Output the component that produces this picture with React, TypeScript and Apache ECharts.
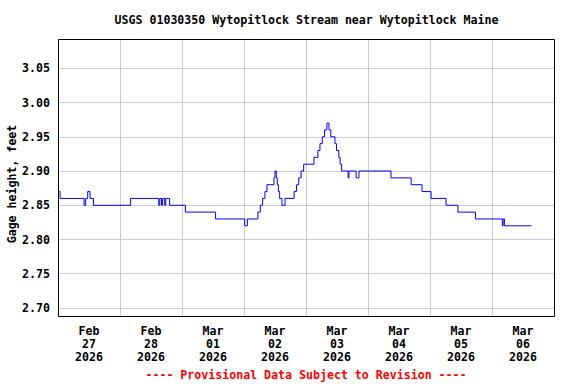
import React, { useEffect, useRef } from 'react';
import * as echarts from 'echarts';

const titleText = 'USGS 01030350 Wytopitlock Stream near Wytopitlock Maine';
const yAxisTitle = 'Gage height, feet';
const footerText = '---- Provisional Data Subject to Revision ----';

const dayLabels = [
  'Feb\n27\n2026',
  'Feb\n28\n2026',
  'Mar\n01\n2026',
  'Mar\n02\n2026',
  'Mar\n03\n2026',
  'Mar\n04\n2026',
  'Mar\n05\n2026',
  'Mar\n06\n2026',
];

const yTicks = [2.7, 2.75, 2.8, 2.85, 2.9, 2.95, 3.0, 3.05];

// hours since Feb 27 00:00 at which the gage height changes
const hours = [
  0, 0.8, 10.1, 10.7, 11.5, 12.4, 13.7,
  28.1, 39.0, 39.4, 40.1, 40.5, 41.3, 41.7, 43.2,
  49.3, 61.0, 72.3, 73.3,
  77.4, 78.3, 79.2, 80.1, 80.9,
  83.6, 84.0, 84.5, 84.9, 85.3, 85.8, 86.7, 87.9,
  91.4, 92.3, 93.2, 94.1, 95.1,
  99.1, 100.6, 101.4, 102.3, 103.2, 104.1,
  104.9, 105.6, 107.2, 107.8, 108.7, 109.2, 109.8,
  112.3, 112.6, 115.4, 116.5,
  128.9, 136.7, 140.9, 144.4, 150.2, 154.8, 161.6,
  172.0, 172.3, 172.8, 183.3,
];

const gage = [
  2.87, 2.86, 2.85, 2.86, 2.87, 2.86, 2.85,
  2.86, 2.85, 2.86, 2.85, 2.86, 2.85, 2.86, 2.85,
  2.84, 2.83, 2.82, 2.83,
  2.84, 2.85, 2.86, 2.87, 2.88,
  2.89, 2.9, 2.89, 2.88, 2.87, 2.86, 2.85, 2.86,
  2.87, 2.88, 2.89, 2.9, 2.91,
  2.92, 2.93, 2.94, 2.95, 2.96, 2.97,
  2.96, 2.95, 2.94, 2.93, 2.92, 2.91, 2.9,
  2.89, 2.9, 2.89, 2.9,
  2.89, 2.88, 2.87, 2.86, 2.85, 2.84, 2.83,
  2.82, 2.83, 2.82, 2.82,
];

const FONT = '"DejaVu Sans Mono", monospace';
const FS = 11.6;

export default function App() {
  const ref = useRef<HTMLDivElement>(null);

  useEffect(() => {
    if (!ref.current) return;
    const chart = echarts.init(ref.current, null, { renderer: 'svg' });
    const data = hours.map((h, i) => [h, gage[i]]);
    const gridLeft = 58;
    const gridTop = 39;
    const gridW = 496;
    const gridH = 277;

    chart.setOption({
      animation: false,
      backgroundColor: '#ffffff',
      grid: {
        left: gridLeft,
        top: gridTop,
        width: gridW,
        height: gridH,
        show: false,
      },
      xAxis: [
        {
          type: 'category',
          data: dayLabels,
          boundaryGap: true,
          axisLine: { show: false },
          axisTick: { show: false },
          axisLabel: {
            interval: 0,
            color: '#000',
            fontFamily: FONT,
            fontWeight: 'bold',
            fontSize: FS,
            lineHeight: 13,
            margin: 8,
          },
          splitLine: {
            show: true,
            interval: 0,
            lineStyle: { color: '#cccccc', width: 1 },
          },
        },
        {
          type: 'value',
          min: 0,
          max: 192,
          show: false,
        },
      ],
      yAxis: {
        type: 'value',
        min: 2.6883,
        max: 3.0928,
        axisLine: { show: false },
        axisTick: { show: false, customValues: yTicks },
        axisLabel: {
          customValues: yTicks,
          formatter: (v: number) => v.toFixed(2),
          color: '#000',
          fontFamily: FONT,
          fontWeight: 'bold',
          fontSize: FS,
          margin: 8,
        },
        splitLine: {
          show: true,
          lineStyle: { color: '#cccccc', width: 1 },
        },
      },
      series: [
        {
          type: 'line',
          xAxisIndex: 1,
          data,
          step: 'end',
          symbol: 'none',
          silent: true,
          lineStyle: { color: '#0000ff', width: 1 },
        },
      ],
      graphic: [
        {
          type: 'rect',
          z: 100,
          shape: { x: gridLeft + 0.5, y: gridTop + 0.5, width: gridW, height: gridH },
          style: { fill: 'none', stroke: '#000000', lineWidth: 1 },
          silent: true,
        },
        {
          type: 'text',
          x: 306.5,
          y: 20,
          style: {
            text: titleText,
            fill: '#000',
            fontFamily: FONT,
            fontWeight: 'bold',
            fontSize: FS,
            align: 'center',
            verticalAlign: 'middle',
            textAlign: 'center',
            textVerticalAlign: 'middle',
          },
        },
        {
          type: 'text',
          x: 11.5,
          y: 184,
          rotation: Math.PI / 2,
          style: {
            text: yAxisTitle,
            fill: '#000',
            fontFamily: FONT,
            fontWeight: 'bold',
            fontSize: FS,
            align: 'center',
            verticalAlign: 'middle',
            textAlign: 'center',
            textVerticalAlign: 'middle',
          },
        },
        {
          type: 'text',
          x: 306,
          y: 375,
          style: {
            text: footerText,
            fill: '#ff0000',
            fontFamily: FONT,
            fontWeight: 'bold',
            fontSize: FS,
            align: 'center',
            verticalAlign: 'middle',
            textAlign: 'center',
            textVerticalAlign: 'middle',
          },
        },
      ],
    });

    return () => {
      chart.dispose();
    };
  }, []);

  return (
    <div
      ref={ref}
      style={{ position: 'fixed', left: 0, top: 0, width: 576, height: 384 }}
    />
  );
}
